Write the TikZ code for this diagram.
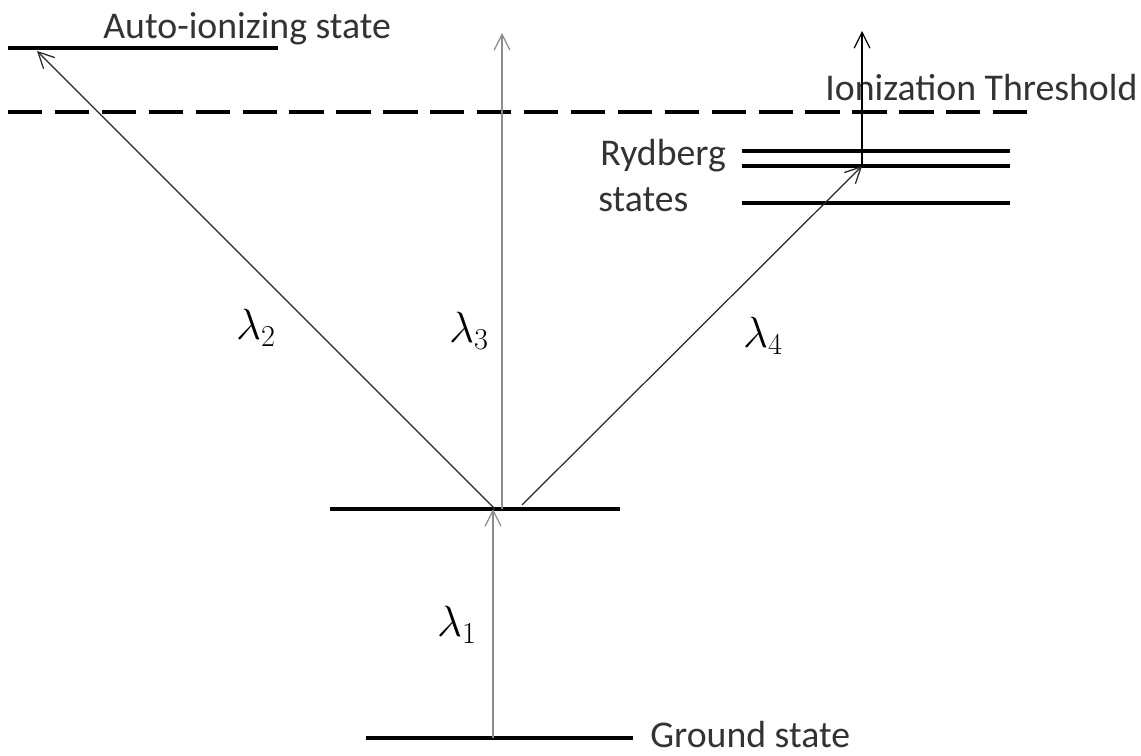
\documentclass[tikz,border=0pt]{standalone}
\usepackage{fontspec}
\setmainfont{Carlito}
\usetikzlibrary{arrows.meta,positioning,calc}
\definecolor{beamgray}{rgb}{0.55,0.55,0.55}

\begin{document}
\begin{tikzpicture}[
      x=0.02cm, y=-0.02cm,
      level/.style={line width=2.3pt, black},
      threshold/.style={line width=2.3pt, black, dash pattern=on 19.5pt off 7.2pt},
      beam/.style={-{Straight Barb[length=9pt,width=9pt]}, line width=0.7pt},
      lbl/.style={text=black!80, inner sep=0pt, font=\fontsize{21.5}{25}\selectfont},
      wave/.style={font=\fontsize{27}{30}\selectfont, inner sep=0pt}
    ]
      \useasboundingbox (0,0) rectangle (1141,756);

      % energy levels
      \coordinate (gndL) at (366,738);   \coordinate (gndR) at (633,738);
      \coordinate (midL) at (330,509);   \coordinate (midR) at (620,509);
      \coordinate (autoL) at (8,48);     \coordinate (autoR) at (278,48);
      \coordinate (thrL) at (8,112);     \coordinate (thrR) at (1030,112);
      \coordinate (ryd1L) at (742,151);  \coordinate (ryd1R) at (1010,151);
      \coordinate (ryd2L) at (742,166);  \coordinate (ryd2R) at (1010,166);
      \coordinate (ryd3L) at (742,203);  \coordinate (ryd3R) at (1010,203);

      \draw[level] (gndL) -- (gndR);
      \draw[level] (midL) -- (midR);
      \draw[level] (autoL) -- (autoR);
      \draw[threshold] (thrL) -- (thrR);
      \draw[level] (ryd1L) -- (ryd1R);
      \draw[level] (ryd2L) -- (ryd2R);
      \draw[level] (ryd3L) -- (ryd3R);

      \node[lbl, anchor=west] (gndtxt) at (650,735) {Ground state};
      \node[lbl, anchor=west] (autotxt) at (103,29) {Auto-ionizing state};
      \node[lbl, anchor=west] (thrtxt) at (825,88) {Ionization Threshold};
      \node[lbl, anchor=west] (rydtxt) at (600,156) {Rydberg};
      \node[lbl, anchor=west] (sttxt) at (598,200) {states};

      % transitions
      \coordinate (g1) at (493,738);  \coordinate (e1) at (493,509);
      \coordinate (s2) at (495,509);  \coordinate (e2) at (37,51);
      \coordinate (s3) at (502,509);  \coordinate (e3) at (502,33);
      \coordinate (s4) at (522,505);  \coordinate (e4) at (862,166);
      \coordinate (ion) at (862,31);

      \draw[beam, beamgray] (g1) -- (e1);
      \draw[beam, black!85] (s2) -- (e2);
      \draw[beam, beamgray] (s3) -- (e3);
      \draw[beam, black!85] (s4) -- (e4);
      \draw[beam, black] (e4) -- (ion);

      \node[wave] (l1) at (457,625) {$\lambda_1$};
      \node[wave] (l2) at (256,328) {$\lambda_2$};
      \node[wave] (l3) at (469,331) {$\lambda_3$};
      \node[wave] (l4) at (763,336) {$\lambda_4$};
    \end{tikzpicture}
\end{document}
